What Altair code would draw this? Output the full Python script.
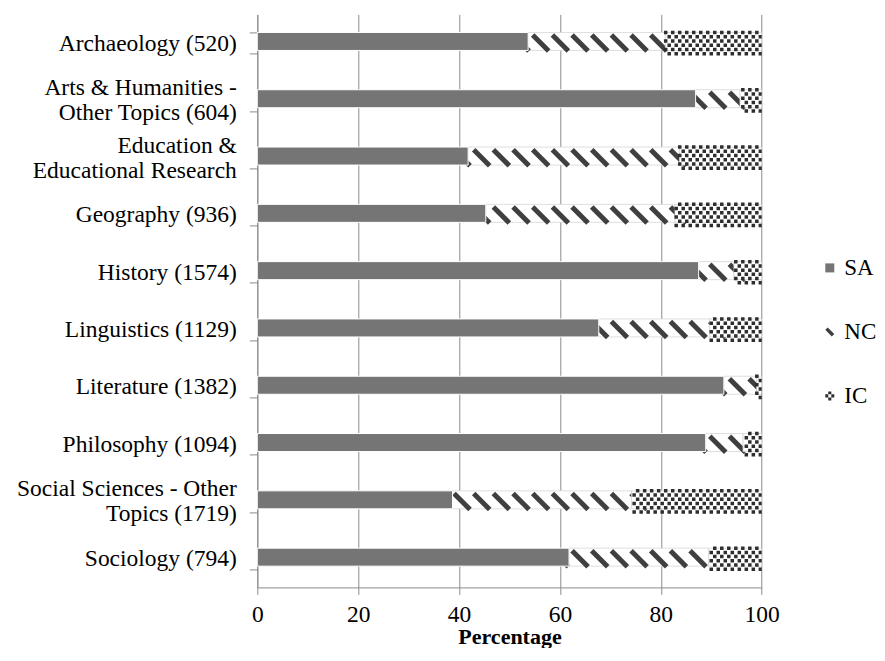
import altair as alt
import pandas as pd

NB = "\u00a0"
SP = "\u2800"
categories = [
    "Archaeology (520)",
    "Arts & Humanities -|Other Topics (604)" + NB,
    "Education &" + NB * 7 + "|Educational Research",
    "Geography (936)",
    "History (1574)",
    "Linguistics (1129)",
    "Literature (1382)",
    "Philosophy (1094)",
    "Social Sciences - Other|Topics (1719)" + NB * 8,
    "Sociology (794)",
]
sa_pct = [53.7, 86.9, 41.8, 45.3, 87.5, 67.7, 92.5, 88.9, 38.7, 61.8]
nc_pct = [27.2, 8.8, 41.9, 37.5, 7.0, 22.0, 6.5, 7.4, 35.5, 27.7]
ic_pct = [19.1, 4.3, 16.3, 17.2, 5.5, 10.3, 1.0, 3.7, 25.8, 10.5]
series = ["SA", "NC", "IC"]
x_ticks = [0, 20, 40, 60, 80, 100]

rows = []
for c, a, n, i in zip(categories, sa_pct, nc_pct, ic_pct):
    rows.append({"cat": c, "type": "SA", "x0": 0.0, "x1": a, "sa": a})
    rows.append({"cat": c, "type": "NC", "x0": a, "x1": a + n, "sa": a})
    rows.append({"cat": c, "type": "IC", "x0": a + n, "x1": a + n + i, "sa": a})
df = pd.DataFrame(rows)

FONT = "Liberation Serif"
GRID = "#8c8c8c"
SA_COLOR = "#757575"
STRIPE = "#3f3f3f"
CHECK = "#2e2e2e"
NC_PATH = "M-1,-0.45L-0.45,-1L1,0.45L0.45,1Z"
IC_PATH = ("M-0.34,-1H0.34V-0.34H-0.34Z M-1,-0.34H-0.34V0.34H-1Z "
           "M0.34,-0.34H1V0.34H0.34Z M-0.34,0.34H0.34V1H-0.34Z")

x_scale = alt.Scale(domain=[0, 100], nice=False, zero=False)
y_scale = alt.Scale(domain=categories, paddingInner=0.63, paddingOuter=0.315)

x_axis = alt.Axis(values=x_ticks, grid=True, gridColor=GRID, gridWidth=1,
                  domainColor=GRID, tickColor=GRID, tickSize=7, labelPadding=8,
                  labelFont=FONT, labelFontSize=23.5, labelColor="black",
                  labelFlush=False, titleFont=FONT, titleFontSize=22,
                  titleFontWeight="bold", titleColor="black", titlePadding=1)
# one-line labels: [blank, text]; two-line labels: [line1, blank, line2]
# (half line height + constant offset keeps every label block centred on its row)
label_expr = ("indexof(datum.label, '|') >= 0 ? "
              "[split(datum.label, '|')[0], '" + SP + "', split(datum.label, '|')[1]] : "
              "['" + SP + "', datum.label]")
y_axis = alt.Axis(tickBand="extent", tickSize=8, labelPadding=13, grid=False,
                  domainColor=GRID, tickColor=GRID, labelFont=FONT,
                  labelFontSize=23.5, labelColor="black", labelLimit=400,
                  labelExpr=label_expr, labelLineHeight=12.5, labelOffset=-12.5)


def X(field):
    return alt.X(field, scale=x_scale, axis=x_axis, title="Percentage")


Y = alt.Y("cat:N", scale=y_scale, axis=y_axis, title=None)

leg = alt.Legend(orient="none", legendX=561, legendY=242, labelFont=FONT,
                 labelFontSize=23, labelColor="black", rowPadding=40,
                 symbolSize=81, labelOffset=3, padding=0, symbolStrokeWidth=0)

base = alt.Chart(df)

legend_layer = base.transform_calculate(mid="datum.sa / 2").mark_point(
    filled=True, size=81, opacity=1
).encode(
    x=X("mid:Q"), y=Y,
    color=alt.Color("type:N", title=None,
                    scale=alt.Scale(domain=series, range=[SA_COLOR, STRIPE, CHECK]),
                    legend=leg),
    shape=alt.Shape("type:N", title=None,
                    scale=alt.Scale(domain=series, range=["square", NC_PATH, IC_PATH]),
                    legend=leg),
)

white_nc = base.transform_filter("datum.type == 'NC'").mark_bar(
    color="white", stroke="#d6d6d6", strokeWidth=0.8
).encode(x=X("x0:Q"), x2="x1:Q", y=Y)

stripes = base.transform_filter("datum.type == 'NC'").transform_calculate(
    t="sequence(ceil((datum.x0 - 3.3) / 3.9) * 3.9, datum.x1, 3.9)"
).transform_flatten(["t"]).mark_rule(
    color=STRIPE, strokeWidth=5, clip=True, yOffset=-8, y2Offset=8, x2Offset=16
).encode(x=X("t:Q"), x2="t:Q", y=Y, y2="cat:N")

sa_bars = base.transform_filter("datum.type == 'SA'").mark_bar(
    color=SA_COLOR, stroke="white", strokeWidth=1
).encode(x=X("x0:Q"), x2="x1:Q", y=Y)

white_ic = base.transform_filter("datum.type == 'IC'").mark_bar(
    color="white", stroke="#d6d6d6", strokeWidth=0.8, clip=True
).encode(x=X("x0:Q"), x2="x1:Q", y=Y)

checker = base.transform_filter("datum.type == 'IC'").transform_calculate(
    col="sequence(floor(datum.x0 / 0.695), ceil(datum.x1 / 0.695))"
).transform_flatten(["col"]).transform_calculate(
    row="sequence(0, 6)"
).transform_flatten(["row"]).transform_filter(
    "(datum.col + datum.row) % 2 == 0"
).transform_calculate(
    cx="(datum.col + 0.5) * 0.695"
).transform_filter(
    "datum.cx > datum.x0 && datum.cx < datum.x1"
).mark_square(size=12.25, color=CHECK, clip=True, opacity=1).encode(
    x=X("cx:Q"), y=Y,
    yOffset=alt.YOffset("row:O", scale=alt.Scale(paddingInner=0, paddingOuter=0)),
)

chart = alt.layer(
    legend_layer, white_nc, stripes, sa_bars, white_ic, checker
).properties(
    width=504.4, height=573,
    autosize=alt.AutoSizeParams(type="none"),
    padding={"left": 249.3, "top": 6.4, "right": 115.3, "bottom": 61},
    background="white",
).configure_view(stroke=None)

chart.save("out.html", embed_options={"renderer": "svg", "actions": False})
